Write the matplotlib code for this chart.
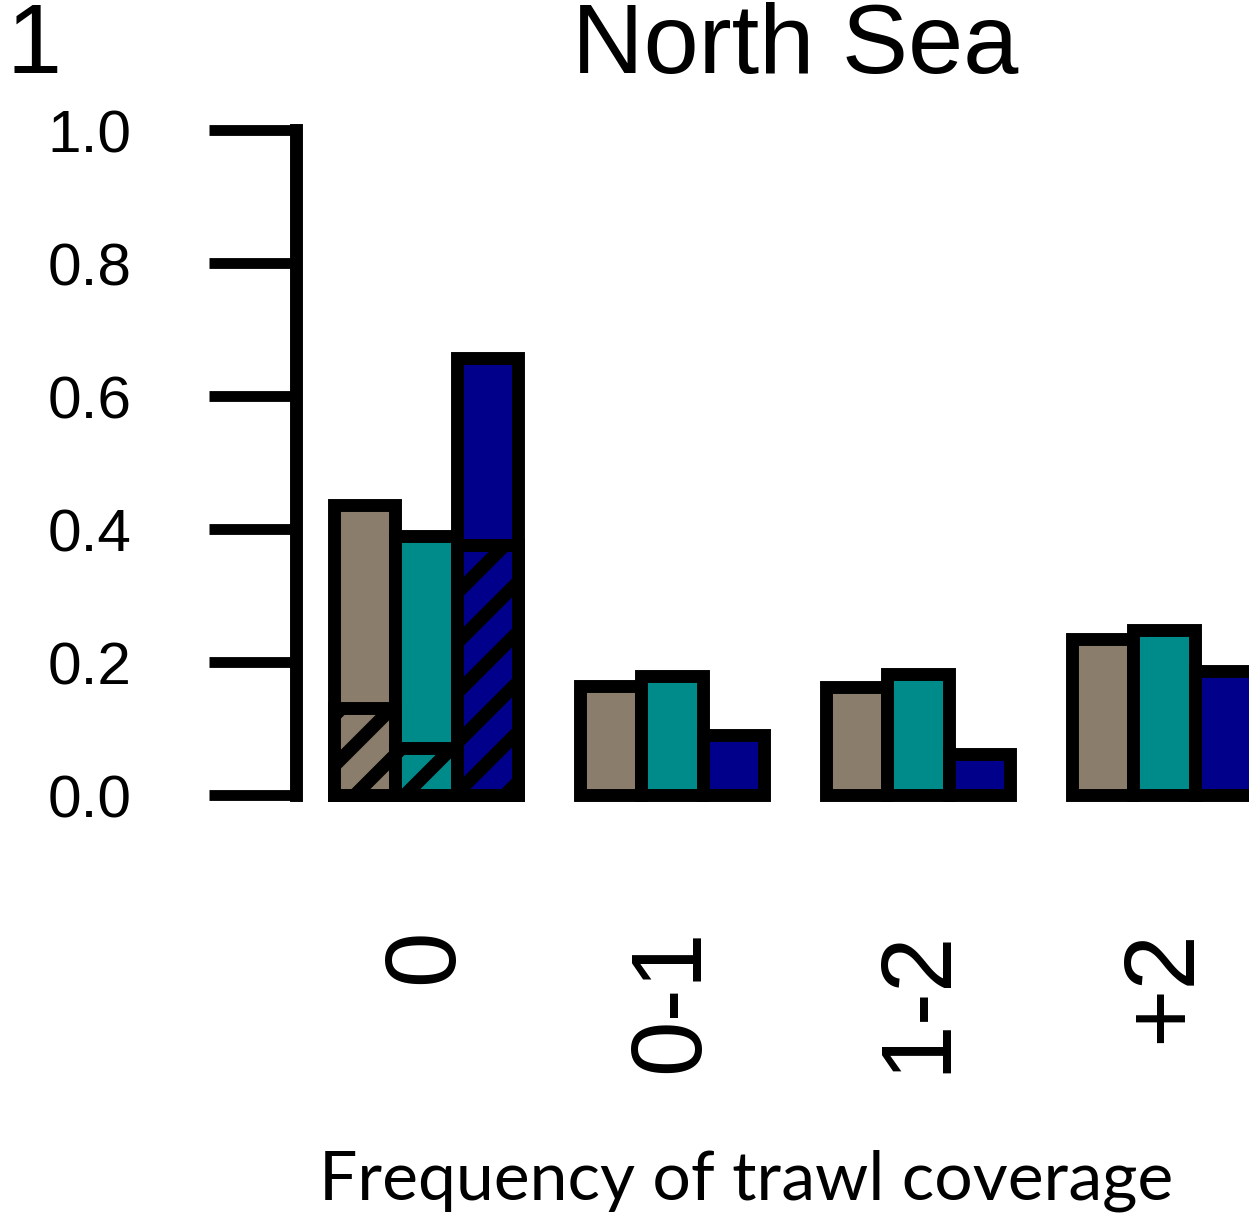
import matplotlib.pyplot as plt
import numpy as np

categories = ['0', '0-1', '1-2', '+2']
# three series per coverage class (colours as in the source figure)
series_brown = [0.436, 0.164, 0.162, 0.234]
series_teal = [0.389, 0.179, 0.182, 0.248]
series_navy = [0.657, 0.090, 0.062, 0.186]
# hatched lower part, only in the first class
hatched_first = [0.131, 0.071, 0.376]

colors = ['#8B7D6B', '#008B8B', '#00008B']
yticks = [0.0, 0.2, 0.4, 0.6, 0.8, 1.0]

plt.rcParams['hatch.linewidth'] = 3.2
plt.rcParams['hatch.color'] = 'black'

W, H, DPI = 1249, 1218, 300
fig = plt.figure(figsize=(W / DPI, H / DPI), dpi=DPI)
ax = fig.add_axes([296 / W, 1 - 822.6 / H, (W - 296) / W, (822.6 - 103.9) / H])

lw = 3.1
series = [series_brown, series_teal, series_navy]
n = len(categories)
for j, vals in enumerate(series):
    lefts = 1 + 4 * np.arange(n) + j
    ax.bar(lefts, vals, width=1, align='edge', color=colors[j],
           edgecolor='black', linewidth=lw)
for j, h in enumerate(hatched_first):
    ax.bar(1 + j, h, width=1, align='edge', color=colors[j],
           edgecolor='black', linewidth=lw, hatch='//')

ax.set_xlim(0.382, 15.88)
ax.set_ylim(-0.04, 1.04)

for s in ['top', 'right', 'bottom']:
    ax.spines[s].set_visible(False)
ax.spines['left'].set_linewidth(lw)
ax.spines['left'].set_bounds(0, 1)

ax.set_yticks(yticks)
ax.set_yticklabels(['%.1f' % v for v in yticks], fontsize=14.5,
                   family='Liberation Sans')
ax.tick_params(axis='y', length=21, width=2.6, pad=18.5)

centers = 1 + 4 * np.arange(n) + 1.5
ax.set_xticks(centers)
ax.set_xticklabels(categories, rotation=90, fontsize=24,
                   family='Liberation Sans')
ax.tick_params(axis='x', length=0, pad=25.5)

fig.text(795.5 / W, 1 - 73 / H, 'North Sea', fontsize=23.8,
         family='Liberation Sans', ha='center', va='baseline')
fig.text(6 / W, 1 - 73 / H, '1', fontsize=23.8,
         family='Liberation Sans', ha='left', va='baseline')
fig.text(746 / W, 1 - 1200 / H, 'Frequency of trawl coverage', fontsize=16.3,
         family='Lato', ha='center', va='baseline')

fig.savefig('out.png', dpi=DPI)
